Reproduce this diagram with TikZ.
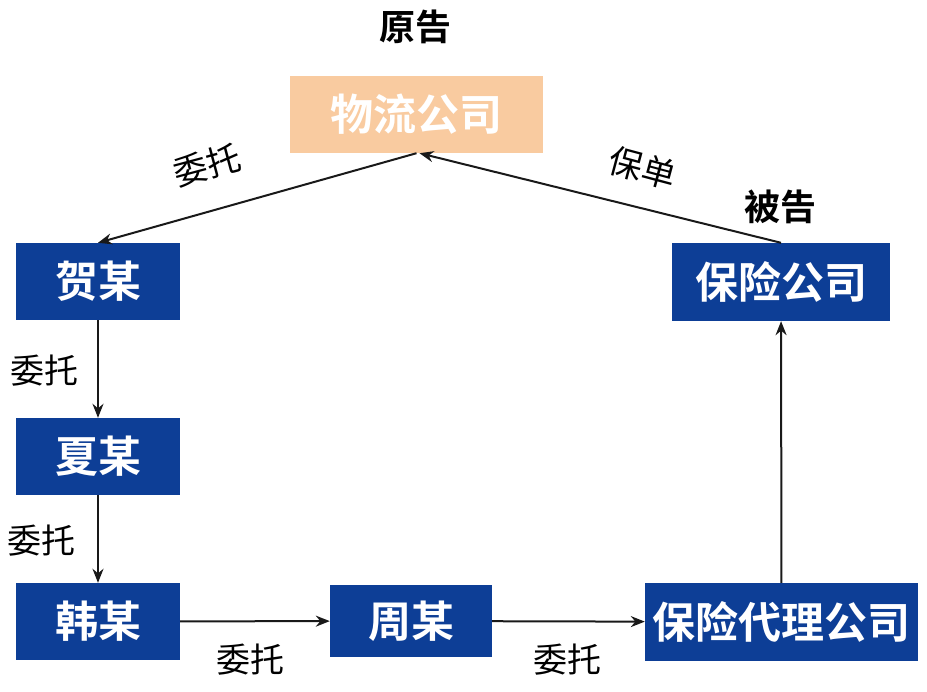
\documentclass[tikz,border=0pt]{standalone}
\usepackage{fontspec}
\newfontfamily\cjk{Noto Sans CJK SC}
\newfontfamily\cjkb{Noto Sans CJK SC Bold}
\usetikzlibrary{arrows.meta}
\definecolor{boxblue}{HTML}{0D3E96}
\definecolor{boxorange}{HTML}{F9CBA0}
\begin{document}
\begin{tikzpicture}[x=1pt,y=-1pt,
  bluebox/.style={fill=boxblue,text=white,inner sep=0pt,font=\cjkb\fontsize{43}{43}\selectfont},
  orangebox/.style={fill=boxorange,text=white,inner sep=0pt,font=\cjkb\fontsize{43}{43}\selectfont},
  lbl/.style={font=\cjk\fontsize{34}{34}\selectfont,inner sep=0pt},
  role/.style={font=\cjkb\fontsize{36}{36}\selectfont,inner sep=0pt},
  conn/.style={draw=black!90,line width=2pt,-{Stealth[length=14pt,width=11pt]}}]
\useasboundingbox (0,0) rectangle (927,692);
\node[orangebox,minimum width=253pt,minimum height=77pt] (wl) at (416.5,114.5) {物流公司};
\node[bluebox,minimum width=164pt,minimum height=77pt] (he) at (98,281.5) {贺某};
\node[bluebox,minimum width=164pt,minimum height=77pt] (xia) at (98,456.5) {夏某};
\node[bluebox,minimum width=164pt,minimum height=77pt] (han) at (98,621.5) {韩某};
\node[bluebox,minimum width=162pt,minimum height=72pt] (zhou) at (411,621) {周某};
\node[bluebox,minimum width=273pt,minimum height=78pt] (dl) at (781.5,622) {保险代理公司};
\node[bluebox,minimum width=218pt,minimum height=78pt] (bx) at (781,282) {保险公司};
\node[role] (yg) at (415,27) {原告};
\node[role] (bg) at (780,207) {被告};
\draw[conn] (wl.south) -- (he.north);
\draw[conn] (bx.north) -- ([xshift=3pt]wl.south);
\draw[conn] (he) -- (xia);
\draw[conn] (xia) -- (han);
\draw[conn] (han) -- (zhou);
\draw[conn] (zhou) -- (dl);
\draw[conn] (dl) -- (bx);
\node[lbl,rotate=15] (l1) at (207,165) {委托};
\node[lbl,rotate=-15] (l2) at (643,168) {保单};
\node[lbl] (l3) at (44,371) {委托};
\node[lbl] (l4) at (41,541) {委托};
\node[lbl] (l5) at (250,660) {委托};
\node[lbl] (l6) at (567,660) {委托};
\end{tikzpicture}
\end{document}
